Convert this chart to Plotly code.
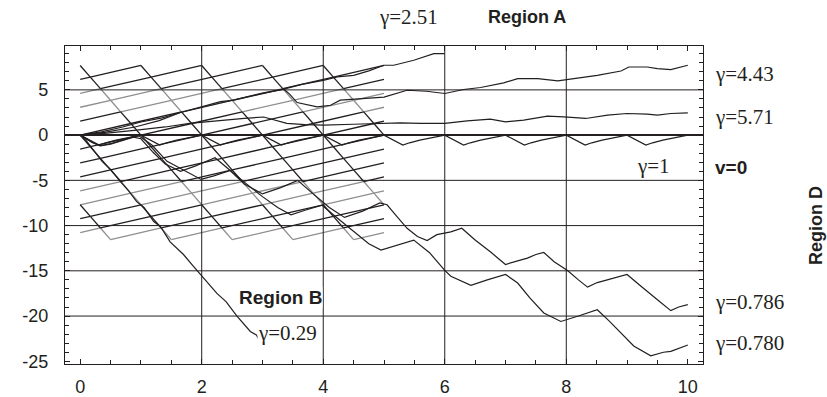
import plotly.graph_objects as go

# ---------------- data ----------------
# trajectories (t, v)
t_g251 = [0, 0.35, 0.7, 1.0, 1.35, 1.65, 2.0, 2.3, 2.65, 3.0, 3.3, 3.65, 4.0, 4.23, 4.5, 4.75, 5.0, 5.16, 5.49, 5.82, 6.0]
v_g251 = [0, 0.35, 0.9, 1.45, 1.9, 2.5, 3.05, 3.55, 4.1, 4.65, 5.0, 5.6, 6.06, 6.43, 6.6, 7.1, 7.72, 7.72, 8.27, 9.0, 9.0]

t_g443 = [0, 0.4, 0.9, 1.3, 1.65, 2.0, 2.31, 2.53, 2.97, 3.35, 3.45, 3.57, 3.9, 4.12, 4.28, 4.6, 5.0, 5.38, 5.7, 6.0, 6.31, 6.59, 6.97, 7.2, 7.53, 7.86, 8.02, 8.24, 8.51, 8.9, 9.03, 9.33, 9.5, 9.72, 10.0]
v_g443 = [0, 0.3, 0.9, 1.6, 2.5, 3.1, 3.7, 3.86, 4.5, 5.1, 4.5, 3.6, 3.12, 3.3, 3.86, 4.0, 4.2, 4.96, 4.85, 4.6, 5.04, 5.26, 5.77, 6.25, 6.25, 5.99, 6.14, 6.43, 6.6, 7.09, 7.53, 7.53, 7.35, 7.24, 7.72]

t_g571 = [0, 0.4, 0.93, 1.4, 1.8, 2.31, 2.7, 3.02, 3.2, 3.4, 3.7, 4.0, 4.5, 5.0, 5.27, 5.6, 6.0, 6.37, 6.75, 7.0, 7.3, 7.69, 7.96, 8.32, 8.68, 9.0, 9.33, 9.5, 9.72, 10.0]
v_g571 = [0, 0.2, 0.55, 0.9, 1.3, 1.65, 1.85, 2.0, 1.7, 1.29, 1.15, 1.1, 1.2, 1.25, 1.36, 1.3, 1.29, 1.58, 1.76, 1.47, 1.65, 2.09, 2.02, 1.84, 2.2, 2.39, 2.32, 2.2, 2.39, 2.46]

t_g1 = [0, 0.2, 0.31, 0.42, 0.59, 1.0, 1.2, 1.31, 1.42, 1.59, 2.0, 2.2, 2.31, 2.42, 2.59, 3.0,
        3.2, 3.31, 3.42, 3.59, 4.0, 4.2, 4.31, 4.42, 4.59, 5.0, 5.2, 5.31, 5.42, 5.59, 6.0,
        6.2, 6.31, 6.42, 6.59, 7.0, 7.2, 7.31, 7.42, 7.59, 8.0, 8.2, 8.31, 8.42, 8.59, 9.0,
        9.2, 9.31, 9.42, 9.59, 10.0]
v_g1 = [0, -0.74, -1.1, -0.85, -0.55, 0, -0.74, -1.1, -0.85, -0.55, 0, -0.74, -1.1, -0.85, -0.55, 0,
        -0.74, -1.1, -0.85, -0.55, 0, -0.74, -1.1, -0.85, -0.55, 0, -0.74, -1.1, -0.85, -0.55, 0,
        -0.74, -1.1, -0.85, -0.55, 0, -0.74, -1.1, -0.85, -0.55, 0, -0.74, -1.1, -0.85, -0.55, 0,
        -0.74, -1.1, -0.85, -0.55, 0]

t_g786 = [0, 0.2, 0.33, 0.5, 0.86, 1.0, 1.2, 1.4, 1.65, 1.9, 2.22, 2.45, 2.7, 3.0, 3.3, 3.58, 3.8, 4.1, 4.35, 4.65, 4.93, 5.05, 5.2, 5.38, 5.55, 5.71, 5.87, 6.1, 6.28, 6.5, 6.75, 7.0, 7.2, 7.36, 7.5, 7.63, 7.8, 8.02, 8.2, 8.35, 8.51, 8.75, 9.0, 9.23, 9.4, 9.5, 9.72, 9.85, 10.0]
v_g786 = [0, -0.8, -1.15, -0.95, -0.2, -0.4, -1.9, -3.2, -4.0, -3.4, -2.5, -3.8, -5.4, -6.5, -5.8, -5.0, -6.3, -8.0, -9.1, -8.4, -7.5, -7.7, -8.9, -10.3, -11.2, -11.65, -11.0, -10.7, -10.3, -11.6, -12.9, -14.3, -13.9, -13.6, -13.2, -12.97, -14.0, -14.96, -16.0, -16.8, -16.3, -15.9, -15.4, -16.7, -17.7, -18.2, -19.4, -19.0, -18.74]

t_g780 = [0, 0.2, 0.33, 0.5, 0.96, 1.18, 1.43, 1.65, 1.99, 2.2, 2.47, 2.7, 3.0, 3.25, 3.47, 3.7, 3.98, 4.2, 4.5, 4.75, 4.95, 5.2, 5.49, 5.75, 6.0, 6.1, 6.43, 6.7, 7.0, 7.2, 7.4, 7.63, 7.91, 8.2, 8.51, 8.7, 8.9, 9.11, 9.39, 9.6, 9.72, 10.0]
v_g780 = [0, -0.8, -1.2, -1.0, -0.05, -1.1, -2.9, -3.7, -4.9, -4.5, -3.9, -5.2, -6.8, -8.0, -8.8, -8.3, -7.75, -9.0, -10.6, -12.0, -12.7, -12.2, -11.6, -13.0, -14.96, -15.6, -16.6, -16.0, -15.4, -16.35, -18.0, -19.66, -20.6, -20.0, -19.3, -20.5, -21.9, -23.3, -24.4, -24.0, -23.9, -23.2]

t_g029 = [0, 0.1, 0.36, 0.5, 0.66, 0.8, 0.93, 1.05, 1.21, 1.32, 1.48, 1.7, 1.85, 2.0, 2.25, 2.4, 2.58, 2.8, 2.9, 2.99]
v_g029 = [0, -0.6, -2.9, -3.8, -5.1, -6.2, -7.35, -8.0, -9.56, -10.1, -11.8, -13.2, -14.4, -15.6, -17.5, -18.4, -20.0, -21.7, -22.1, -23.2]

# lattice of straight construction lines (rising / falling families)
LAT_T = [0.0, 5.0]              # time span of lattice
LAT_V = [-11.55, 7.7]           # velocity span of lattice
RISE_SLOPE = 1.54
FALL_SLOPE = -7.7
RISE_V0 = [-18.48, -16.94, -15.40, -13.86, -12.32, -10.78, -9.24, -7.70, -6.16,
           -4.62, -3.08, -1.54, 0.0, 1.54, 3.08, 4.62, 6.16]   # value of rising lines at t=0
FALL_PEAK_T = [-2, -1, 0, 1, 2, 3, 4]                            # falling lines leave v=7.7 here
GRAY_BANDS = [(2.45, 5.25), (-7.75, -5.05), (-12.0, -10.15)]

GRID_X = [2, 4, 6, 8]
GRID_Y = [5, -5, -10, -15, -20]
ZERO_Y = [0]

X_TICKS = [0, 2, 4, 6, 8, 10]
Y_TICKS = [5, 0, -5, -10, -15, -20, -25]
Y_TICKTEXT = ["5", "0", "-5", "-10", "-15", "-20", "-25"]

X_RANGE = [-0.25, 10.25]
Y_RANGE = [-25.3, 9.85]

# ---------------- build lattice segments ----------------
vb, vt = LAT_V
t0, t1 = LAT_T


def rise_line(v0):
    return lambda t: v0 + RISE_SLOPE * t


def fall_line(tp):
    return lambda t: vt + FALL_SLOPE * (t - tp)


def is_gray(va, vb_):
    lo, hi = min(va, vb_), max(va, vb_)
    return any(lo >= b0 - 1e-6 and hi <= b1 + 1e-6 for b0, b1 in GRAY_BANDS)


gx, gy, bx, by = [], [], [], []


def add_segments(f, ta, tb, cuts):
    pts = [ta] + sorted(c for c in cuts if ta + 1e-9 < c < tb - 1e-9) + [tb]
    for a, b in zip(pts[:-1], pts[1:]):
        va, vb2 = f(a), f(b)
        if is_gray(va, vb2):
            gx.extend([a, b, None]); gy.extend([va, vb2, None])
        else:
            bx.extend([a, b, None]); by.extend([va, vb2, None])


for v0 in RISE_V0:
    ta = max(t0, (vb - v0) / RISE_SLOPE)
    tb = min(t1, (vt - v0) / RISE_SLOPE)
    if tb - ta < 1e-6:
        continue
    cuts = [(vt - FALL_SLOPE * tp - v0) / (RISE_SLOPE - FALL_SLOPE) for tp in FALL_PEAK_T]
    add_segments(rise_line(v0), ta, tb, cuts)

for tp in FALL_PEAK_T:
    ta = max(t0, tp)
    tb = min(t1, tp + (vb - vt) / FALL_SLOPE)
    if tb - ta < 1e-6:
        continue
    cuts = [(vt - FALL_SLOPE * tp - v0) / (RISE_SLOPE - FALL_SLOPE) for v0 in RISE_V0]
    add_segments(fall_line(tp), ta, tb, cuts)

INK = "#231f20"
GRAY = "#8f8f8f"

fig = go.Figure()
fig.add_trace(go.Scatter(x=gx, y=gy, mode="lines", line=dict(color=GRAY, width=1.3),
                         hoverinfo="skip", showlegend=False))
fig.add_trace(go.Scatter(x=bx, y=by, mode="lines", line=dict(color=INK, width=1.3),
                         hoverinfo="skip", showlegend=False))

for name, tt, vv in [("γ=2.51", t_g251, v_g251), ("γ=4.43", t_g443, v_g443),
                     ("γ=5.71", t_g571, v_g571), ("γ=1", t_g1, v_g1),
                     ("γ=0.786", t_g786, v_g786), ("γ=0.780", t_g780, v_g780),
                     ("γ=0.29", t_g029, v_g029)]:
    fig.add_trace(go.Scatter(x=tt, y=vv, mode="lines", name=name,
                             line=dict(color=INK, width=1.2), showlegend=False))

shapes = []
for gxv in GRID_X:
    shapes.append(dict(type="line", xref="x", yref="paper", x0=gxv, x1=gxv, y0=0, y1=1,
                       line=dict(color=INK, width=1)))
for gyv in GRID_Y:
    shapes.append(dict(type="line", xref="paper", yref="y", x0=0, x1=1, y0=gyv, y1=gyv,
                       line=dict(color=INK, width=1)))
for gyv in ZERO_Y:
    shapes.append(dict(type="line", xref="paper", yref="y", x0=0, x1=1, y0=gyv, y1=gyv,
                       line=dict(color=INK, width=2)))

SERIF = "Liberation Serif, Times New Roman, serif"
SANS = "Liberation Sans, Arial, sans-serif"


def px(t):
    return (t - X_RANGE[0]) / (X_RANGE[1] - X_RANGE[0])


def py(v):
    return (v - Y_RANGE[0]) / (Y_RANGE[1] - Y_RANGE[0])


ann = []


def label(text, x, y, xanchor="center", font=SERIF, size=21, bold=False, bg=None, angle=0):
    # x, y given in data units, placed via paper coordinates so that labels
    # outside the plotting area stay visible
    d = dict(text=("<b>%s</b>" % text) if bold else text, x=px(x), y=py(y),
             xref="paper", yref="paper",
             showarrow=False, xanchor=xanchor, yanchor="middle", textangle=angle,
             font=dict(family=font, size=size, color=INK))
    if bg:
        d["bgcolor"] = bg
        d["borderpad"] = 0
    ann.append(d)


label("γ=2.51", 5.4, 13.1)
label("Region A", 7.35, 13.1, font=SANS, size=18, bold=True)
label("γ=4.43", 10.42, 6.8, xanchor="left")
label("γ=5.71", 10.42, 1.95, xanchor="left")
label("γ=1", 9.43, -3.4)
label("v=0", 10.42, -3.6, xanchor="left", font=SANS, size=19, bold=True)
label("γ=0.786", 10.42, -18.4, xanchor="left")
label("γ=0.780", 10.42, -23.0, xanchor="left")
label("Region B", 3.29, -18.0, font=SANS, size=19, bold=True, bg="white")
label("γ=0.29", 3.42, -21.9, bg="white")
label("Region D", 12.1, -10.0, font=SANS, size=18, bold=True, angle=-90)

axis_common = dict(showline=True, linecolor=INK, linewidth=1.2, mirror="allticks",
                   ticks="inside", ticklen=5, tickcolor=INK, tickwidth=1,
                   showgrid=False, zeroline=False, automargin=False,
                   tickfont=dict(family=SANS, size=18, color=INK))

fig.update_layout(
    width=827, height=397,
    margin=dict(l=65, r=124, t=46, b=33),
    paper_bgcolor="white", plot_bgcolor="white",
    shapes=shapes, annotations=ann,
    xaxis=dict(range=X_RANGE, tickvals=X_TICKS,
               minor=dict(dtick=0.5, tick0=0, ticks="inside", ticklen=4, tickcolor=INK, showgrid=False),
               ticklabelstandoff=6, **axis_common),
    yaxis=dict(range=Y_RANGE, tickvals=Y_TICKS, ticktext=Y_TICKTEXT,
               minor=dict(dtick=1, tick0=0, ticks="inside", ticklen=4, tickcolor=INK, showgrid=False),
               ticklabelstandoff=12, **axis_common),
)

fig.write_html("out.html")
